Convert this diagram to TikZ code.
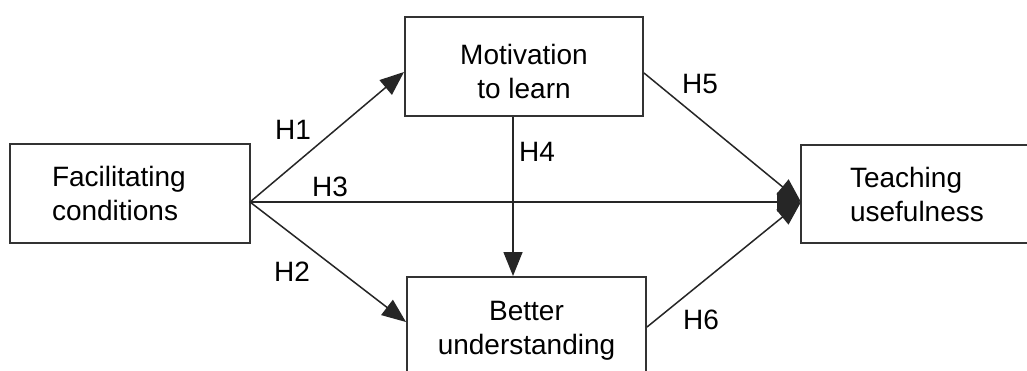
\documentclass[tikz,border=0pt]{standalone}
\usepackage{fontspec}
\setmainfont{Liberation Sans}
\usetikzlibrary{arrows.meta}
\begin{document}
\begin{tikzpicture}[x=0.5pt,y=-0.5pt,
  box/.style={draw=black!80, line width=1pt, inner sep=0pt, font=\fontsize{14}{17}\selectfont},
  lbl/.style={inner sep=0pt, font=\fontsize{14}{17}\selectfont},
  arr/.style={draw=black!85, line width=0.75pt, -{Triangle[length=12pt,width=9.5pt]}}]
\clip (0,0) rectangle (1027,370);
\fill[white] (0,0) rectangle (1027,370);
% boxes
\node[box, minimum width=120pt, minimum height=49.5pt, text width=78pt, align=left] (fc) at (130,193.5) {Facilitating\\conditions};
\node[box, minimum width=119pt, minimum height=49.5pt, align=center] (mt) at (524,66.5) {\rule{0pt}{15pt}Motivation\\to learn};
\node[box, minimum width=119.5pt, minimum height=54pt, align=center] (bu) at (526.5,331) {Better\\understanding};
\node[box, minimum width=120pt, minimum height=49pt, text width=71pt, align=left] (tu) at (921,194) {Teaching\\usefulness};
% connection points
\coordinate (fcout) at (250,202);
\coordinate (tuin) at (801,202);
\coordinate (h4) at (513,0);
% connectors
\draw[arr] (fcout) -- ([yshift=-2.75pt]mt.west);
\draw[arr] (fcout) -- ([yshift=4.5pt]bu.west);
\draw[arr] (fcout) -- (tuin);
\draw[arr] (mt.south -| h4) -- (bu.north -| h4);
\draw[arr] ([yshift=-3.25pt]mt.east) -- (tuin);
\draw[arr] ([yshift=2pt]bu.east) -- (tuin);
% labels
\node[lbl] (l1) at (293,130) {H1};
\node[lbl] (l2) at (292,272) {H2};
\node[lbl] (l3) at (330,187) {H3};
\node[lbl] (l4) at (537,152) {H4};
\node[lbl] (l5) at (700,84) {H5};
\node[lbl] (l6) at (701,320) {H6};
\end{tikzpicture}
\end{document}
